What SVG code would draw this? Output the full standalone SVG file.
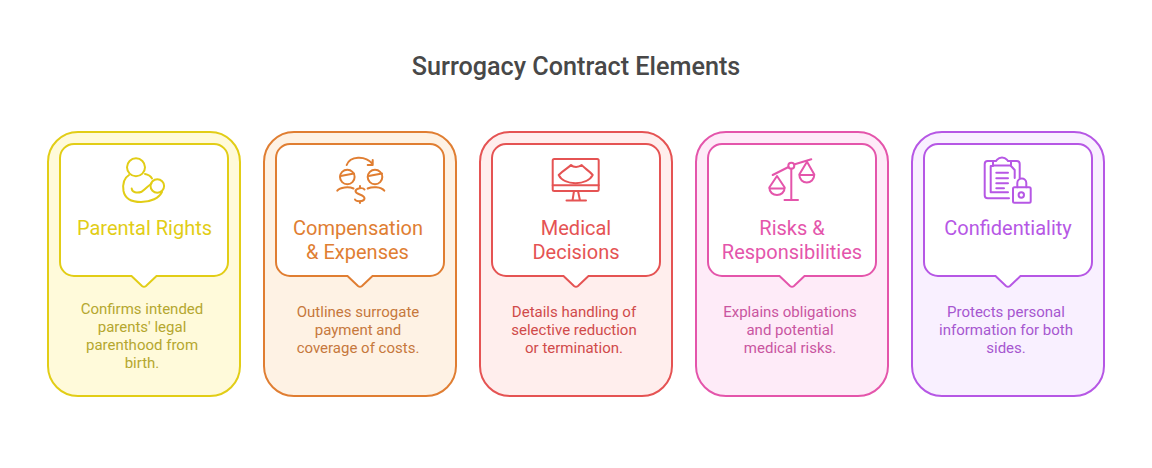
<svg xmlns="http://www.w3.org/2000/svg" width="1152" height="468" viewBox="0 0 1152 468">
<style>
text{font-family:Roboto,"Liberation Sans",sans-serif;text-anchor:middle}
.title{font-size:25.200px;font-weight:500;fill:#484848}
.h{font-size:20px}
.d{font-size:15px}
.card{stroke-width:2}
.inner{fill:#fff;stroke-width:2}
.ic{fill:none;stroke-width:2;stroke-linecap:round;stroke-linejoin:round}
.y .card{fill:#fffada;stroke:#e2cd16}.y .inner,.y .ic{stroke:#e2cd16}.y .h{fill:#e2cd16}.y .d{fill:#b5a72f}
.o .card{fill:#fef2e4;stroke:#e07e32}.o .inner,.o .ic{stroke:#e07e32}.o .h{fill:#e07e32}.o .d{fill:#c6783c}
.r .card{fill:#ffeeed;stroke:#e55353}.r .inner,.r .ic{stroke:#e55353}.r .h{fill:#e55353}.r .d{fill:#d04a4a}
.p .card{fill:#feebf8;stroke:#e455ab}.p .inner,.p .ic{stroke:#e455ab}.p .h{fill:#e455ab}.p .d{fill:#c955a0}
.v .card{fill:#f9f0ff;stroke:#b657e5}.v .inner,.v .ic{stroke:#b657e5}.v .h{fill:#b657e5}.v .d{fill:#a657d0}
</style>
<defs>
<path id="bubble" d="M74 144H214A14 14 0 0 1 228 158V262A14 14 0 0 1 214 276H156.500L146 286Q144 287.500 142 286L131.500 276H74A14 14 0 0 1 60 262V158A14 14 0 0 1 74 144Z"/>
<rect id="outer" x="48" y="132" width="192" height="264" rx="30"/>
</defs>
<text class="title" x="576" y="75">Surrogacy Contract Elements</text>
<g id="node-parental-rights" class="y">
<use href="#outer" class="card"/><use href="#bubble" class="inner"/>
<g class="ic"><circle cx="136" cy="167.300" r="9"/><circle cx="157.300" cy="186" r="6.800"/>
<path d="M129 175C124 178 122.500 184 123.500 191C125 199 132 202 141 202C151 202 159 198 162 192"/>
<path d="M145 174C148 174.500 150.500 176 152 178.500"/>
<path d="M131.700 188.500C132 192.500 137 193.500 141.700 191.700C145 189.500 148 186 151.500 183.500"/></g>
<text class="h" x="144.500" y="235">Parental Rights</text>
<text class="d" x="142" y="314">Confirms intended</text><text class="d" x="142" y="332">parents' legal</text><text class="d" x="142" y="350">parenthood from</text><text class="d" x="142" y="368">birth.</text>
</g>
<g id="node-compensation" class="o" transform="translate(216 0)">
<use href="#outer" class="card"/><use href="#bubble" class="inner"/>
<g class="ic"><circle cx="131.300" cy="177" r="7.300"/><circle cx="159" cy="177" r="7.300"/>
<path d="M124.500 176L138 173.500M152.500 176L166 173.500"/>
<path d="M121.300 190.700C124 187 133 186.500 137.500 188.500M151.700 188.500C156 186.500 165 186.500 168.300 190.700"/>
<path d="M130.700 165C134 156 149 155 156.700 164M156.700 160V165H151.700"/>
<path d="M148.500 189.500C147.500 187.500 140 187.500 139.500 191C139.500 195 148.500 194 148.500 198.500C148 202 140 202 139 199.500M144 186V187.800M144 201V203"/></g>
<text class="h" x="142" y="235">Compensation</text><text class="h" x="141.500" y="259">&amp; Expenses</text>
<text class="d" x="142" y="317">Outlines surrogate</text><text class="d" x="142" y="335">payment and</text><text class="d" x="142" y="353">coverage of costs.</text>
</g>
<g id="node-medical" class="r" transform="translate(432 0)">
<use href="#outer" class="card"/><use href="#bubble" class="inner"/>
<g class="ic"><rect x="120.700" y="159" width="46" height="32" rx="1.500"/><path d="M120.700 185.300H166.700M142 191L140.500 200.500M146 191L148 200.500M134.500 200.500H154"/>
<path d="M126.700 175C131 170.500 136 168 139 165C141.500 167.500 146.500 167.500 149.700 165C152 168 157 170.500 160.700 175C155 186 132 186 126.700 175Z"/></g>
<text class="h" x="144" y="235">Medical</text><text class="h" x="144" y="259">Decisions</text>
<text class="d" x="142" y="317">Details handling of</text><text class="d" x="142" y="335">selective reduction</text><text class="d" x="142" y="353">or termination.</text>
</g>
<g id="node-risks" class="p" transform="translate(648 0)">
<use href="#outer" class="card"/><use href="#bubble" class="inner"/>
<g class="ic"><circle cx="143.300" cy="165.700" r="3"/><path d="M124.700 175L140.500 167M146 164.500L163.300 159.300M143.300 168.700V200M136.500 200H150"/>
<path d="M129 176L121.300 187.500C121.300 197.500 136.700 197.500 136.700 187.500ZM121.300 188.500H136.700"/>
<path d="M159 161.700L151.300 174.500C151.300 185 166.300 185 166.300 174.500ZM151.300 175H166.300"/></g>
<text class="h" x="144" y="235">Risks &amp;</text><text class="h" x="144" y="259">Responsibilities</text>
<text class="d" x="142" y="317">Explains obligations</text><text class="d" x="142" y="335">and potential</text><text class="d" x="142" y="353">medical risks.</text>
</g>
<g id="node-confidentiality" class="v" transform="translate(864 0)">
<use href="#outer" class="card"/><use href="#bubble" class="inner"/>
<g class="ic"><path d="M129 161H123.700C121.700 161 120.700 162 120.700 164V195.300C120.700 197.300 121.700 198.300 123.700 198.300H145M155.700 178V164C155.700 162 154.700 161 152.700 161H147"/>
<path d="M126.700 166V192.300H144M126.700 166H129M147 166L150.700 170V178"/>
<path d="M129 161H132C134 159 134 157.500 138 157.500C142 157.500 142 159 144 161H147V165.500H129Z"/>
<path d="M132.300 172.700H144M132.300 178.300H144M132.300 183.300H144M132.300 188.300H140"/>
<rect x="149" y="187.300" width="17.700" height="15.400" rx="1.500"/><path d="M153.300 187.300V183C153.300 177 162.300 177 162.300 183V187.300"/><circle cx="157.300" cy="195" r="2.700"/></g>
<text class="h" x="144" y="235">Confidentiality</text>
<text class="d" x="142" y="317">Protects personal</text><text class="d" x="142" y="335">information for both</text><text class="d" x="142" y="353">sides.</text>
</g>
<g id="connectors"></g>
</svg>
